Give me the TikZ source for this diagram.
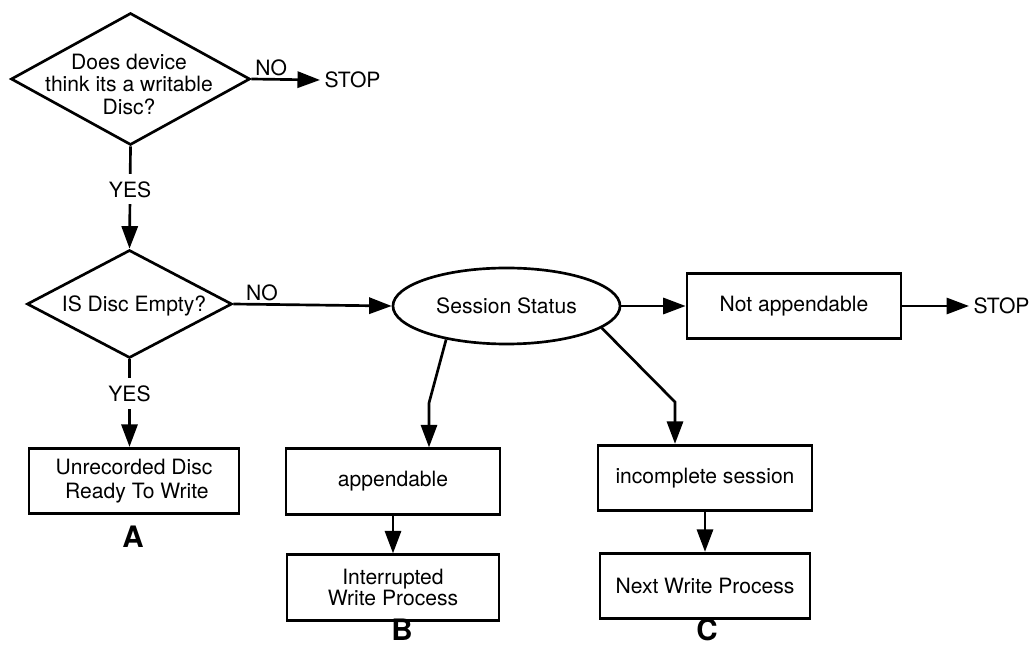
\documentclass[tikz,border=0pt]{standalone}
\usepackage{fontspec}
\setmainfont{TeX Gyre Heros}
\usetikzlibrary{shapes.geometric, arrows.meta}

\tikzstyle{decision}=[diamond, draw, line width=1.9pt, inner sep=0]
\tikzstyle{statnode}=[ellipse, draw, line width=1.9pt, minimum width=5.675cm, minimum height=1.9cm]
\tikzstyle{boxnode}=[rectangle, draw, line width=1.9pt, minimum height=1.64cm, align=center]
\tikzstyle{arrowline}=[line width=1.9pt, -{Triangle[length=16pt, width=11.5pt]}]
\tikzstyle{lbl}=[inner sep=1.5pt]
\tikzstyle{gaplbl}=[fill=white, inner sep=5pt]
\tikzstyle{stoptext}=[anchor=west, inner sep=3pt]
\tikzstyle{letter}=[inner sep=0pt, font=\fontsize{21}{24}\selectfont\bfseries]

\begin{document}
\begin{tikzpicture}[x=0.025cm, y=-0.025cm, font=\fontsize{15}{17}\selectfont]
  \useasboundingbox (0,0) rectangle (1034,648);
  % questions
  \node[decision, minimum width=5.975cm, minimum height=3.3cm] (D1) at (130.5,79) {};
  \node[align=center, font=\fontsize{15}{16}\selectfont] (D1T) at (129,84) {Does device\\think its a writable\\Disc?};
  \node[stoptext] (ST1) at (320,80) {STOP};
  \node[decision, minimum width=5.125cm, minimum height=2.7cm] (D2) at (129.5,304) {};
  \node (D2T) at (134,306) {IS Disc Empty?};
  % session status and results
  \node[statnode] (SS) at (506.5,306) {Session Status};
  \node[boxnode, minimum width=5.35cm] (NA) at (794,306) {Not appendable};
  \node[stoptext] (ST2) at (969,306) {STOP};
  \node[boxnode, minimum width=5.25cm, font=\fontsize{15}{17}\selectfont] (UA) at (134,481) {Unrecorded Disc\\ \ Ready To Write};
  \node[boxnode, minimum width=5.35cm] (AP) at (393,481.5) {appendable};
  \node[boxnode, minimum width=5.3cm, font=\fontsize{15}{13.5}\selectfont] (IW) at (393,587.5) {Interrupted\\Write Process};
  \node[boxnode, minimum width=5.35cm] (IS) at (705,478) {incomplete session};
  \node[boxnode, minimum width=5.25cm] (NW) at (705,586) {Next Write Process};
  \node[letter] (LA) at (133,537) {A};
  \node[letter] (LB) at (402,630) {B};
  \node[letter] (LC) at (707,630) {C};
  \coordinate (K1) at (429,403);
  \coordinate (K2) at (675,402);
  % connectors
  \draw[arrowline] (D1.east) -- node[lbl, above, pos=.29] (N1) {NO} (ST1.west);
  \draw[arrowline] (D1.south) -- node[gaplbl, pos=.42] (Y1) {YES} (D2.north);
  \draw[arrowline] (D2.east) -- node[lbl, above, pos=.18] (N2) {NO} (SS.west);
  \draw[arrowline] (D2.south) -- node[gaplbl, pos=.39] (Y2) {YES} (D2.south |- UA.north);
  \draw[arrowline] (SS.east) -- (NA.west);
  \draw[arrowline] (NA.east) -- (ST2.west);
  \draw[arrowline] (SS.209) -- (K1) -- (K1 |- AP.north);
  \draw[arrowline] (SS.347) -- (K2) -- (K2 |- IS.north);
  \draw[arrowline] (AP.south) -- (IW.north);
  \draw[arrowline] (IS.south) -- (NW.north);
\end{tikzpicture}
\end{document}
